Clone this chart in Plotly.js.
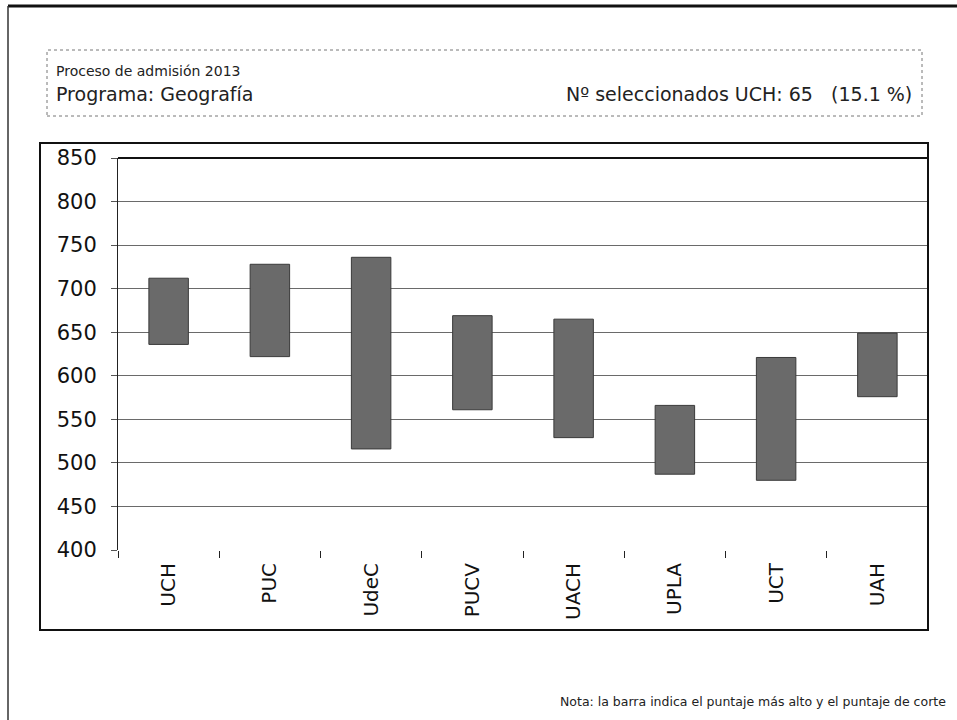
<!DOCTYPE html>
<html>
<head>
<meta charset="utf-8">
<script src="https://cdn.plot.ly/plotly-3.0.1.min.js"></script>
<style>html,body{margin:0;padding:0;background:#fff;}#chart{width:957px;height:720px;}</style>
</head>
<body>
<div id="chart"></div>
<script>
// Data
const categories = ["UCH", "PUC", "UdeC", "PUCV", "UACH", "UPLA", "UCT", "UAH"];
const highScores = [712, 728, 736, 669, 665, 566, 621, 649];   // puntaje más alto
const cutScores  = [636, 622, 516, 561, 529, 487, 480, 576];   // puntaje de corte
const yTicks = [400, 450, 500, 550, 600, 650, 700, 750, 800, 850];

const headerSmall = "Proceso de admisión 2013";
const headerProgram = "Programa: Geografía";
const headerSelected = "Nº seleccionados UCH: 65 &nbsp;&nbsp;(15.1 %)";
const noteText = "Nota: la barra indica el puntaje más alto y el puntaje de corte";

// Layout geometry (pixels)
const W = 957, H = 720;
const L = 118, R = 928, T = 158, B = 550;
const px = x => (x - L) / (R - L);
const py = y => (B - y) / (B - T);

const FONT = "DejaVu Sans, Verdana, sans-serif";

const trace = {
  type: "bar",
  x: categories,
  base: cutScores,
  y: highScores.map((h, i) => h - cutScores[i]),
  width: 0.39,
  marker: { color: "#6a6a6a", line: { color: "#3a3a3a", width: 1 } },
  hoverinfo: "skip"
};

const layout = {
  width: W, height: H,
  margin: { l: L, r: W - R, t: T, b: H - B, pad: 0 },
  paper_bgcolor: "#fff",
  plot_bgcolor: "#fff",
  showlegend: false,
  xaxis: {
    type: "category",
    tickson: "boundaries",
    ticks: "outside", ticklen: 7, tickcolor: "#222", tickwidth: 1,
    tickangle: -90,
    ticklabelstandoff: 8,
    tickfont: { family: FONT, size: 20, color: "#111" },
    showgrid: false, zeroline: false, showline: false,
    fixedrange: true
  },
  yaxis: {
    range: [400, 850],
    tickvals: yTicks,
    ticktext: yTicks.map(String),
    ticks: "outside", ticklen: 6, tickcolor: "#555",
    ticklabelstandoff: 10,
    tickfont: { family: FONT, size: 21, color: "#111" },
    showgrid: true, gridcolor: "#6a6a6a", gridwidth: 1,
    showline: true, linecolor: "#222", linewidth: 1,
    zeroline: false,
    fixedrange: true
  },
  shapes: [
    // chart outer border
    { type: "rect", xref: "paper", yref: "paper", x0: px(40), x1: px(928), y0: py(630), y1: py(143),
      line: { color: "#111", width: 2 } },
    // top line of plot area (850)
    { type: "line", xref: "paper", yref: "paper", x0: 0, x1: 1, y0: 1, y1: 1,
      line: { color: "#111", width: 2 } },
    // page scan border: top and left
    { type: "line", xref: "paper", yref: "paper", x0: px(8), x1: px(957), y0: py(6), y1: py(6),
      line: { color: "#111", width: 3 } },
    { type: "line", xref: "paper", yref: "paper", x0: px(8), x1: px(8), y0: py(6), y1: py(720),
      line: { color: "#333", width: 1.5 } },
    // header dotted box
    { type: "rect", xref: "paper", yref: "paper", x0: px(47), x1: px(922), y0: py(116), y1: py(50),
      line: { color: "#777", width: 1, dash: "dot" } }
  ],
  annotations: [
    { text: headerSmall, xref: "paper", yref: "paper", x: px(54), y: py(71),
      xanchor: "left", yanchor: "middle", showarrow: false,
      font: { family: FONT, size: 14, color: "#222" } },
    { text: headerProgram, xref: "paper", yref: "paper", x: px(54), y: py(94),
      xanchor: "left", yanchor: "middle", showarrow: false,
      font: { family: FONT, size: 19, color: "#222" } },
    { text: headerSelected, xref: "paper", yref: "paper", x: px(914), y: py(94),
      xanchor: "right", yanchor: "middle", showarrow: false,
      font: { family: FONT, size: 19, color: "#222" } },
    { text: noteText, xref: "paper", yref: "paper", x: px(948), y: py(701),
      xanchor: "right", yanchor: "middle", showarrow: false,
      font: { family: FONT, size: 12.5, color: "#222" } }
  ]
};

Plotly.newPlot("chart", [trace], layout, { displayModeBar: false, staticPlot: true });
</script>
</body>
</html>
